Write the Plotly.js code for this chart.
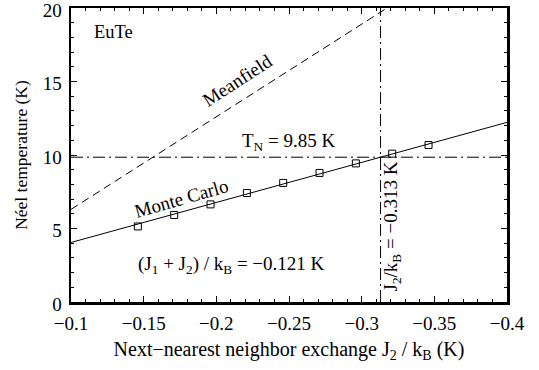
<!DOCTYPE html>
<html>
<head>
<meta charset="utf-8">
<script src="https://cdn.plot.ly/plotly-3.0.1.min.js"></script>
<style>
  html, body { margin: 0; padding: 0; background: #fff; }
  #chart { width: 539px; height: 370px; }
</style>
</head>
<body>
<div id="chart"></div>
<script>
// Monte Carlo Néel temperatures of EuTe versus J2/kB
const mcJ2 = [-0.146, -0.171, -0.196, -0.221, -0.246, -0.271, -0.296, -0.321, -0.346];
const mcTN = [5.14, 5.92, 6.64, 7.41, 8.10, 8.78, 9.43, 10.09, 10.68];

// Linear fit through the Monte Carlo results
const fitJ2 = [-0.1, -0.4];
const fitTN = [4.05, 12.22];

// Mean-field estimate T_N = -63 J2
const mfJ2 = [-0.1, -0.4];
const mfTN = [6.3, 25.2];

// Measured T_N and the J2 value it implies
const tnMeasured = 9.85;
const j2Implied = -0.313;

const xRange = [-0.1, -0.4];
const yRange = [0, 20];
const xTickVals = [-0.1, -0.15, -0.2, -0.25, -0.3, -0.35, -0.4];
const xTickText = ['\u22120.1', '\u22120.15', '\u22120.2', '\u22120.25', '\u22120.3', '\u22120.35', '\u22120.4'];
const yTickVals = [0, 5, 10, 15, 20];

const serif = 'Liberation Serif, Times New Roman, serif';
const black = '#000';
const dashDot = '12px,4px,2px,4px';
const fs = 19;

const traces = [
  {
    x: mfJ2, y: mfTN, mode: 'lines',
    line: { color: black, width: 1, dash: '8px,5px' },
    hoverinfo: 'skip'
  },
  {
    x: xRange, y: [tnMeasured, tnMeasured], mode: 'lines',
    line: { color: black, width: 1, dash: dashDot },
    hoverinfo: 'skip'
  },
  {
    x: [j2Implied, j2Implied], y: yRange, mode: 'lines',
    line: { color: black, width: 1, dash: dashDot },
    hoverinfo: 'skip'
  },
  {
    x: fitJ2, y: fitTN, mode: 'lines',
    line: { color: black, width: 1 },
    hoverinfo: 'skip'
  },
  {
    x: mcJ2, y: mcTN, mode: 'markers',
    marker: { symbol: 'square-open', size: 7, color: black, line: { color: black, width: 1 } },
    cliponaxis: false
  },
  // empty trace that puts the top/right tick axes on the page
  { x: [], y: [], xaxis: 'x2', yaxis: 'y2', mode: 'lines', hoverinfo: 'skip' }
];

const axisCommon = {
  showgrid: false, zeroline: false,
  showline: true, linecolor: black, linewidth: 2.5,
  ticks: 'inside', ticklen: 6, tickwidth: 1, tickcolor: black,
  tickfont: { family: serif, size: fs, color: black },
  ticklabeloverflow: 'allow',
  fixedrange: true
};

const xMinor = { dtick: 0.01, tick0: 0, ticks: 'inside', ticklen: 3, tickwidth: 1, tickcolor: black };
const yMinor = { dtick: 1, tick0: 0, ticks: 'inside', ticklen: 3, tickwidth: 1, tickcolor: black };

const layout = {
  width: 539, height: 370,
  margin: { l: 71, r: 32, t: 8, b: 68 },
  paper_bgcolor: '#fff', plot_bgcolor: '#fff',
  showlegend: false,
  font: { family: serif, size: fs, color: black },
  xaxis: Object.assign({}, axisCommon, {
    range: xRange, autorange: false,
    tickmode: 'array', tickvals: xTickVals, ticktext: xTickText,
    ticklabelstandoff: 3,
    minor: xMinor,
    title: { text: 'Next\u2212nearest neighbor exchange J<sub>2</sub> / k<sub>B</sub> (K)', font: { family: serif, size: 20, color: black }, standoff: 9 }
  }),
  yaxis: Object.assign({}, axisCommon, {
    range: yRange, autorange: false,
    tickmode: 'array', tickvals: yTickVals,
    ticklabelstandoff: 3, ticklabelshift: 2,
    minor: yMinor,
    title: { text: 'Néel temperature (K)', font: { family: serif, size: 17.5, color: black }, standoff: 11 }
  }),
  xaxis2: Object.assign({}, axisCommon, {
    range: xRange, autorange: false, overlaying: 'x', side: 'top', anchor: 'y2',
    tickmode: 'array', tickvals: xTickVals, showticklabels: false,
    minor: xMinor
  }),
  yaxis2: Object.assign({}, axisCommon, {
    range: yRange, autorange: false, overlaying: 'y', side: 'right', anchor: 'x2',
    tickmode: 'array', tickvals: yTickVals, showticklabels: false,
    minor: yMinor
  }),
  annotations: [
    { text: 'EuTe', x: -0.1145, y: 18.4, showarrow: false, xanchor: 'left', yanchor: 'middle', font: { size: 18.5 } },
    { text: 'Meanfield', x: -0.2143, y: 15.1, showarrow: false, textangle: -33, font: { size: fs } },
    { text: 'Monte Carlo', x: -0.176, y: 7.05, showarrow: false, textangle: -16, font: { size: fs } },
    { text: 'T<sub>N</sub> = 9.85 K', x: -0.2494, y: 10.9, showarrow: false, font: { size: fs } },
    { text: '(J<sub>1</sub> + J<sub>2</sub>) / k<sub>B</sub> = \u22120.121 K', x: -0.2103, y: 2.5, showarrow: false, font: { size: fs } },
    { text: 'J<sub>2</sub>/k<sub>B</sub> = \u22120.313 K', x: -0.3210, y: 5.15, showarrow: false, textangle: -90, font: { size: fs } }
  ]
};

Plotly.newPlot('chart', traces, layout, { displayModeBar: false, staticPlot: true });
</script>
</body>
</html>
